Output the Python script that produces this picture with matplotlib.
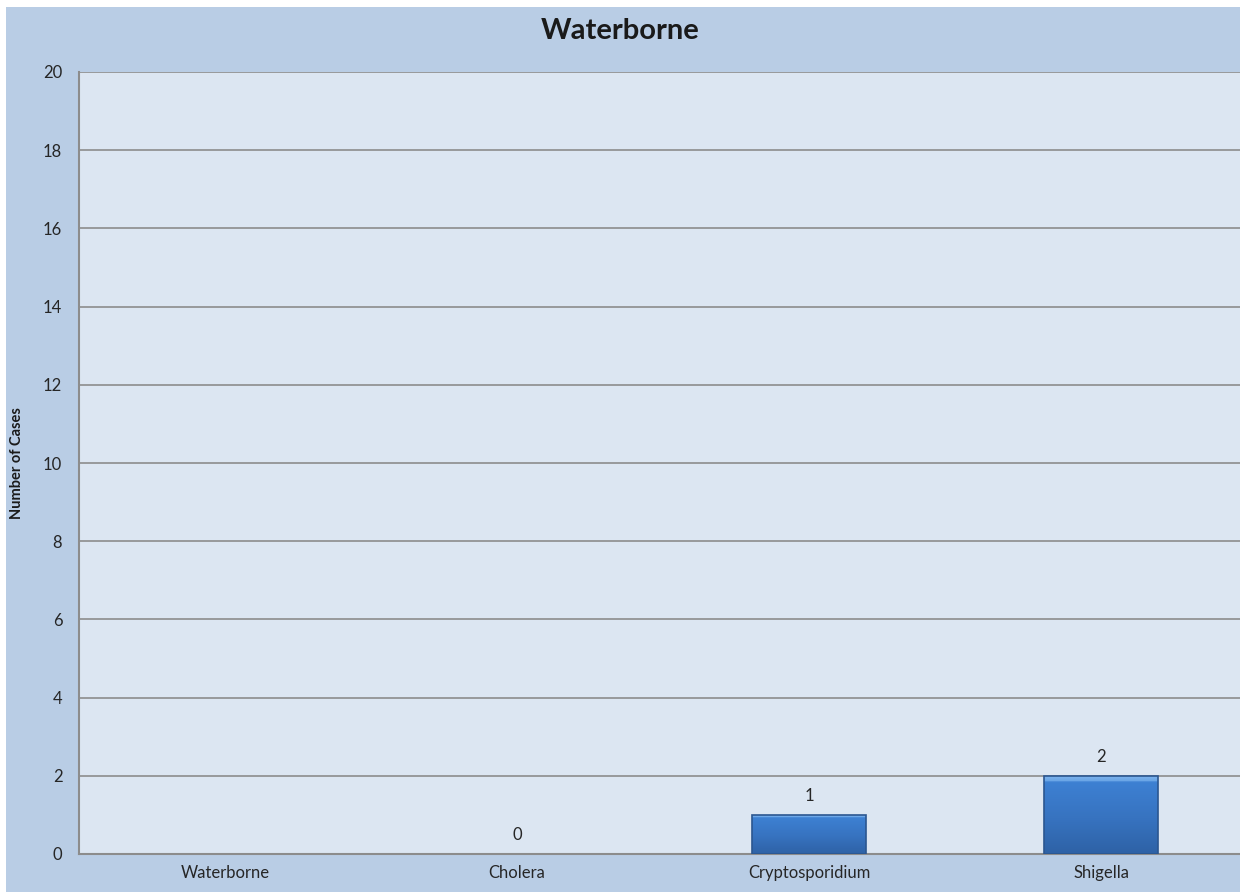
import matplotlib.pyplot as plt
import numpy as np
from matplotlib.patches import Rectangle
from matplotlib.colors import LinearSegmentedColormap

# chart data
categories = ['Waterborne', 'Cholera', 'Cryptosporidium', 'Shigella']
cases = [np.nan, 0, 1, 2]
y_ticks = [0, 2, 4, 6, 8, 10, 12, 14, 16, 18, 20]

plt.rcParams['font.family'] = ['Lato', 'DejaVu Sans']

fig = plt.figure(figsize=(12.4, 8.94), dpi=100, facecolor='white')
# outer chart area
fig.patches.append(Rectangle((6 / 1240, 2 / 894), 1 - 6 / 1240, 1 - 9 / 894,
                             transform=fig.transFigure, facecolor='#B9CDE5',
                             edgecolor='none', zorder=-10))

ax = fig.add_axes([79 / 1240, 40 / 894, 1168 / 1240, 782 / 894])
ax.set_zorder(5)
ax.set_facecolor('#DCE6F2')

x = np.arange(len(categories))
bars = ax.bar(x, cases, width=0.39, color='#3A76C6', edgecolor='#2B5690',
              linewidth=1.2, zorder=3)

# bevel-like gradient inside the bars
grad_cmap = LinearSegmentedColormap.from_list('bev', ['#2E62A6', '#3773C0', '#3D80D2', '#7DB4EE'])
grad = np.concatenate([np.linspace(0, 0.68, 92), np.linspace(0.9, 1, 8)]).reshape(-1, 1)
for b in bars:
    h = b.get_height()
    if np.isnan(h) or h <= 0:
        b.set_linewidth(0)
        continue
    im = ax.imshow(grad, cmap=grad_cmap, aspect='auto', origin='lower', zorder=3.5,
                   extent=(b.get_x(), b.get_x() + b.get_width(), 0, h))
    im.set_clip_path(b)
    b.set_zorder(4)
    b.set_facecolor('none')

# data labels (skip missing values)
for xi, v in zip(x, cases):
    if not np.isnan(v):
        ax.annotate(f'{int(v)}', (xi, v), xytext=(0, 8), textcoords='offset points',
                    ha='center', va='bottom', fontsize=12, color='#262626')

ax.set_xlim(-0.5, len(categories) - 0.5)
ax.set_ylim(0, 20)
ax.set_yticks(y_ticks)
ax.set_xticks(x)
ax.set_xticklabels(categories)
ax.tick_params(axis='both', length=0, labelsize=12, labelcolor='#262626')
ax.tick_params(axis='y', pad=12)
ax.tick_params(axis='x', pad=8)
ax.yaxis.grid(True, color='#8C8C8C', linewidth=1.2, zorder=1)
ax.set_axisbelow(True)

for side in ['top', 'right']:
    ax.spines[side].set_visible(False)
for side in ['left', 'bottom']:
    ax.spines[side].set_color('#8C8C8C')
    ax.spines[side].set_linewidth(1.5)

ax.set_ylabel('Number of Cases', fontsize=10.5, fontweight='bold', color='#1a1a1a', labelpad=14)
fig.text(0.5, 1 - 31 / 894, 'Waterborne', ha='center', va='center',
         fontsize=21, fontweight='bold', color='#1a1a1a')

fig.savefig('out.png', dpi=100, facecolor=fig.get_facecolor())
